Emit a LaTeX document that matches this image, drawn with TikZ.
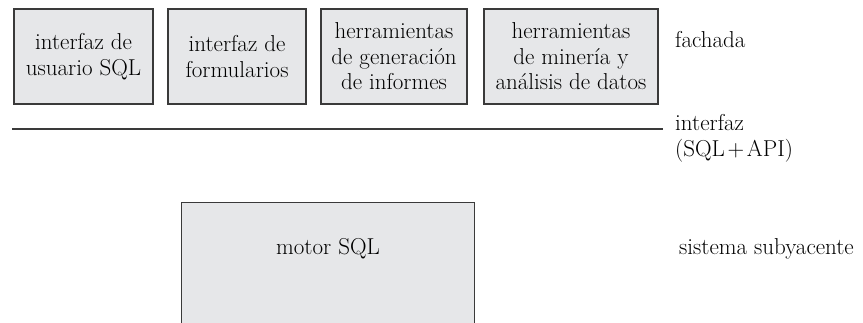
\documentclass[tikz,border=0pt]{standalone}
\definecolor{boxfill}{HTML}{E6E7E9}
\definecolor{boxline}{HTML}{3A3A3A}
\tikzset{
  x=1pt, y=-1pt,
  comp/.style={draw=boxline, line width=1.1pt, fill=boxfill, align=center,
    inner sep=0pt, font=\fontsize{23}{25.5}\selectfont},
  lbl/.style={inner sep=0pt, align=left, font=\fontsize{23}{25.5}\selectfont},
}
\begin{document}
\begin{tikzpicture}
\useasboundingbox (0,0) rectangle (863,323);
\node[comp, minimum width=139pt, minimum height=95pt] (b1) at (83.5,56.5) {interfaz de\\usuario SQL};
\node[comp, minimum width=138pt, minimum height=95pt] (b2) at (237,56.5) {interfaz de\\formularios};
\node[comp, minimum width=146pt, minimum height=95pt] (b3) at (394,56.5) {herramientas\\de generaci\'on\\de informes};
\node[comp, minimum width=174pt, minimum height=95pt] (b4) at (571,56.5) {herramientas\\de miner\'{\i}a y\\an\'alisis de datos};
\node[lbl, anchor=base west] (fachada) at (675,48) {fachada};
\coordinate (lineL) at (12,129);
\coordinate (lineR) at (663,129);
\draw[boxline, line width=1.2pt] (lineL) -- (lineR);
\node[lbl, anchor=base west] (interfaz) at (675,156.5) {interfaz\\(SQL\hspace{0.12em}+\hspace{0.12em}API)};
\node[comp, minimum width=293pt, minimum height=150pt, anchor=north west] (motor) at (181,202) {};
\node[lbl, anchor=base] (motortext) at (328,255) {motor SQL};
\node[lbl, anchor=base west] (sistema) at (679,255) {sistema subyacente};
\end{tikzpicture}
\end{document}
